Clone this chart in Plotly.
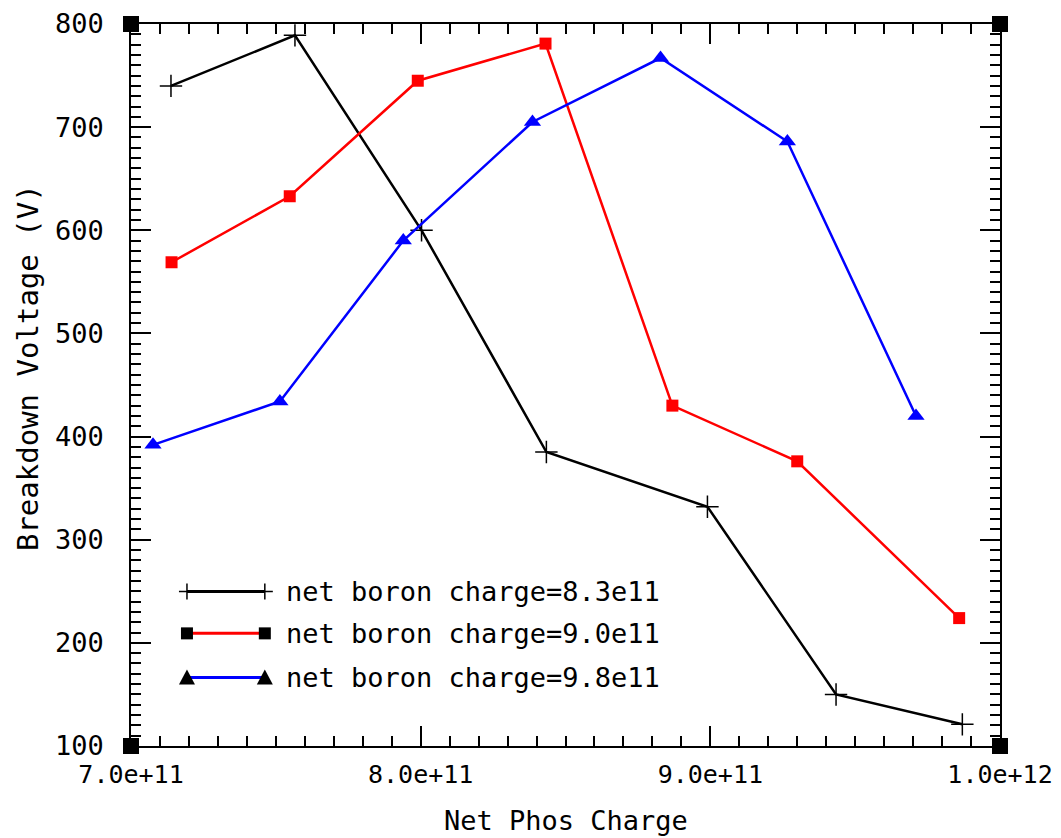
import plotly.graph_objects as go

# ---- data ----
x_black = [7.138e11, 7.566e11, 8.003e11, 8.434e11, 8.99e11, 9.434e11, 9.87e11]
y_black = [740, 789, 600, 385, 332, 150, 121]

x_red = [7.14e11, 7.548e11, 7.99e11, 8.431e11, 8.869e11, 9.30e11, 9.859e11]
y_red = [569, 633, 745, 781, 430, 376, 224]

x_blue = [7.076e11, 7.514e11, 7.94e11, 8.386e11, 8.828e11, 9.266e11, 9.71e11]
y_blue = [392, 434, 590, 705, 767, 686, 420]

series_names = ["net boron charge=8.3e11", "net boron charge=9.0e11", "net boron charge=9.8e11"]
x_title = "Net Phos Charge"
y_title = "Breakdown Voltage (V)"

FONT = "DejaVu Sans Mono"
FS = 27

fig = go.Figure()
fig.add_trace(go.Scatter(x=x_black, y=y_black, mode="lines+markers", name=series_names[0],
                         line=dict(color="black", width=2.5),
                         marker=dict(symbol="cross-thin", size=16, line=dict(color="black", width=1.5))))
fig.add_trace(go.Scatter(x=x_red, y=y_red, mode="lines+markers", name=series_names[1],
                         line=dict(color="#ff0000", width=2.5),
                         marker=dict(symbol="square", size=12, color="#ff0000")))
fig.add_trace(go.Scatter(x=x_blue, y=y_blue, mode="lines+markers", name=series_names[2],
                         line=dict(color="#0000ff", width=2.5),
                         marker=dict(symbol="triangle-up", size=15, color="#0000ff")))

axis_common = dict(showgrid=False, zeroline=False, showline=True, linecolor="black", linewidth=1.5,
                   mirror="allticks", ticks="inside", ticklen=20, tickwidth=1.5, tickcolor="black",
                   automargin=False)

fig.update_xaxes(range=[7e11, 1e12], dtick=1e11, tick0=7e11, tickformat=".1e",
                 minor=dict(dtick=1e10, ticks="inside", ticklen=10, tickwidth=1.5, tickcolor="black"),
                 ticklabelstandoff=5, tickfont=dict(family=FONT, size=25, color="black"),
                 **axis_common)
fig.update_yaxes(range=[100, 800], dtick=100, tick0=100,
                 minor=dict(dtick=10, ticks="inside", ticklen=10, tickwidth=1.5, tickcolor="black"),
                 ticklabelstandoff=20, tickfont=dict(family=FONT, size=FS, color="black"),
                 **axis_common)

shapes = []
annotations = []
# corner squares
for cx in (0, 1):
    for cy in (0, 1):
        shapes.append(dict(type="rect", xref="x domain", yref="y domain",
                           xsizemode="pixel", ysizemode="pixel", xanchor=cx, yanchor=cy,
                           x0=-8, x1=8, y0=-8, y1=8, fillcolor="black", line=dict(width=0)))

# custom legend
leg_x0, leg_x1, leg_tx = 0.0644, 0.154, 0.176
leg_y = [0.214, 0.156, 0.095]
leg_colors = ["black", "#ff0000", "#0000ff"]
for i in range(3):
    yy = leg_y[i]
    shapes.append(dict(type="line", xref="x domain", yref="y domain", x0=leg_x0, x1=leg_x1, y0=yy, y1=yy,
                       line=dict(color=leg_colors[i], width=3)))
    for xx in (leg_x0, leg_x1):
        if i == 0:
            shapes.append(dict(type="path", xref="x domain", yref="y domain",
                               xsizemode="pixel", ysizemode="pixel", xanchor=xx, yanchor=yy,
                               path="M-8,0 L8,0 M0,-8 L0,8", line=dict(color="black", width=1.5)))
        elif i == 1:
            shapes.append(dict(type="rect", xref="x domain", yref="y domain",
                               xsizemode="pixel", ysizemode="pixel", xanchor=xx, yanchor=yy,
                               x0=-6, x1=6, y0=-6, y1=6, fillcolor="black", line=dict(width=0)))
        else:
            shapes.append(dict(type="path", xref="x domain", yref="y domain",
                               xsizemode="pixel", ysizemode="pixel", xanchor=xx, yanchor=yy,
                               path="M-8,-7 L8,-7 L0,8 Z", fillcolor="black", line=dict(width=0)))
    annotations.append(dict(text=series_names[i], xref="x domain", yref="y domain", x=leg_tx, y=yy,
                            xanchor="left", yanchor="middle", showarrow=False,
                            font=dict(family=FONT, size=FS, color="black")))

annotations.append(dict(text=x_title, xref="paper", yref="paper", x=0.5, y=-0.1025,
                        xanchor="center", yanchor="middle", showarrow=False,
                        font=dict(family=FONT, size=FS, color="black")))
annotations.append(dict(text=y_title, xref="paper", yref="paper", x=-0.1185, y=0.5235,
                        xanchor="center", yanchor="middle", textangle=-90, showarrow=False,
                        font=dict(family=FONT, size=29, color="black")))

fig.update_layout(width=1053, height=830, margin=dict(l=123, r=61, t=16, b=92, autoexpand=False),
                  paper_bgcolor="white", plot_bgcolor="white", showlegend=False,
                  shapes=shapes, annotations=annotations)

fig.write_html("out.html")
